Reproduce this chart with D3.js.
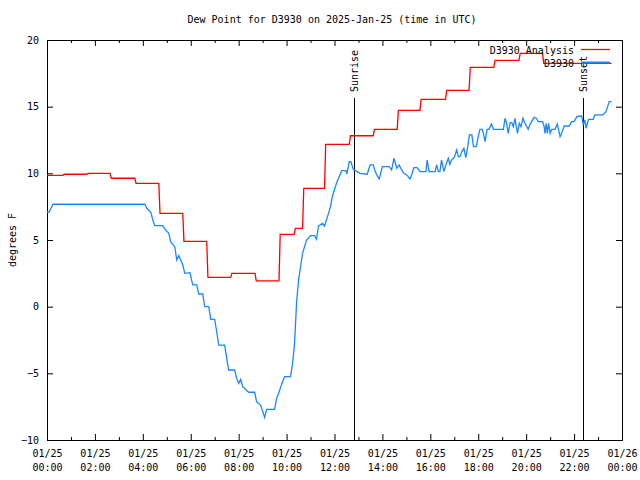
<!DOCTYPE html>
<html><head><meta charset="utf-8">
<script src="https://cdn.jsdelivr.net/npm/d3@7"></script>
<style>
body{margin:0;background:#fff}
text{font-family:"DejaVu Sans Mono",monospace;font-size:10px;fill:#000}
</style>
</head><body>
<svg id="c" width="640" height="480"></svg>
<script>
// ---- data (minutes after 2025-01-25 00:00 UTC) ----
const obsMinutes = [0,5,10,15,245,250,260,265,270,290,295,305,310,320,325,330,335,340,345,358,365,375,380,390,395,405,410,420,425,430,445,450,455,470,475,480,485,490,505,520,525,535,545,550,570,575,580,590,595,610,615,620,625,630,640,645,650,660,670,675,680,690,695,705,710,715,725,738,749,751,757,761,767,784,802,809,817,822,827,832,840,857,863,869,876,882,888,894,901,909,913,919,927,934,949,952,957,972,976,980,984,988,994,999,1005,1009,1013,1020,1026,1030,1034,1039,1044,1049,1053,1058,1064,1068,1075,1080,1084,1090,1093,1097,1102,1107,1113,1118,1143,1147,1151,1155,1160,1164,1168,1172,1178,1183,1187,1192,1197,1205,1211,1220,1226,1230,1241,1245,1247,1250,1253,1256,1260,1264,1272,1278,1281,1285,1289,1295,1308,1314,1320,1327,1335,1339,1343,1347,1350,1356,1368,1372,1392,1400,1408,1414];
const obsValues = [7.08,7.08,7.38,7.68,7.68,7.38,7.08,6.5,6.08,6.08,5.83,5.5,4.83,4.5,3.5,3.83,3.5,3.12,2.5,2.55,1.63,1.63,0.95,0.95,0,0,-0.95,-0.95,-1.88,-2.88,-2.88,-3.88,-4.75,-4.75,-5.38,-5.75,-5.45,-6.0,-6.42,-6.42,-7.13,-7.38,-8.3,-7.7,-7.7,-6.88,-6.5,-5.63,-5.25,-5.25,-4.25,-2.75,0.3,2.0,4.0,4.5,5.0,5.33,5.33,5.05,6.05,6.25,6.05,7.0,7.5,8.3,9.25,10.2,10.2,9.95,10.88,10.88,10.3,10.0,9.93,10.63,10.63,10.13,9.83,9.58,10.5,10.5,10.25,11.13,10.38,10.63,10.25,10.0,9.88,9.58,9.88,10.43,10.43,10.13,10.13,11.0,10.13,10.13,10.63,10.13,10.13,11.0,10.13,10.63,11.13,10.68,11.0,11.2,11.75,11.25,11.25,11.63,11.88,11.18,11.88,12.88,12.88,12.0,12.0,12.75,13.3,13.3,13.0,12.38,13.3,13.3,13.7,13.3,13.3,14.13,13.75,13.0,13.8,13.8,13.5,14.13,13.0,13.75,13.5,14.13,13.75,13.3,13.75,14.2,14.13,13.88,13.88,13.5,13.0,13.75,13.0,13.75,13.0,13.3,13.3,13.7,13.3,12.75,13.0,13.55,13.55,13.88,13.88,14.25,14.3,14.3,13.63,14.0,13.38,14.05,14.05,14.38,14.38,14.63,15.38,15.38];

const anaChangeMinutes = [0,40,100,158,220,280,340,400,460,521,581,619,640,695,757,817,877,934,998,1057,1119,1182,1241];
const anaValues = [9.85,9.93,10.0,9.63,9.25,7.0,4.9,2.2,2.5,1.93,5.42,5.87,8.87,12.17,12.82,13.3,14.72,15.55,16.22,17.95,18.47,19.0,18.25];
const anaEndMinute = 1414;

const xTickDates = ["01/25","01/25","01/25","01/25","01/25","01/25","01/25","01/25","01/25","01/25","01/25","01/25","01/26"];
const xTickTimes = ["00:00","02:00","04:00","06:00","08:00","10:00","12:00","14:00","16:00","18:00","20:00","22:00","00:00"];
const yTickValues = [-10,-5,0,5,10,15,20];
const sunEvents = [{name:"Sunrise", minute:769},{name:"Sunset", minute:1342}];
const seriesNames = ["D3930 Analysis","D3930"];
const titleText = "Dew Point for D3930 on 2025-Jan-25 (time in UTC)";
const yLabelText = "degrees F";

// ---- layout ----
const L=47, R=622, T=40, B=440;
const RED="#ff0000", BLUE="#1b87ff";
const svg = d3.select("#c");
const x = d3.scaleLinear().domain([0,1440]).range([L,R]);
const y = d3.scaleLinear().domain([-10,20]).range([B,T]);

// title
svg.append("text").attr("x",332).attr("y",19).attr("dy","0.35em")
  .attr("text-anchor","middle").text(titleText);
// y label
svg.append("text").attr("transform","translate(12,240) rotate(-90)")
  .attr("dy","0.35em").attr("text-anchor","middle").text(yLabelText);

const majorX = d3.range(0,1441,120), minorX = d3.range(60,1440,120);

// bottom axis
const gB = svg.append("g").attr("transform",`translate(0,${B})`)
  .call(d3.axisBottom(x).tickValues(majorX).tickSizeInner(-6).tickSizeOuter(0).tickPadding(9).tickFormat(""));
gB.selectAll(".tick text").each(function(d,i){
  const t=d3.select(this); t.text(null).attr("y",null).attr("dy",null);
  t.append("tspan").attr("x",0).attr("y",13).attr("dy","0.35em").text(xTickDates[i]);
  t.append("tspan").attr("x",0).attr("y",27).attr("dy","0.35em").text(xTickTimes[i]);
});
svg.append("g").attr("transform",`translate(0,${B})`)
  .call(d3.axisBottom(x).tickValues(minorX).tickSizeInner(-3).tickSizeOuter(0).tickFormat(""));
// top axis
svg.append("g").attr("transform",`translate(0,${T})`)
  .call(d3.axisTop(x).tickValues(majorX).tickSizeInner(-6).tickSizeOuter(0).tickFormat(""));
svg.append("g").attr("transform",`translate(0,${T})`)
  .call(d3.axisTop(x).tickValues(minorX).tickSizeInner(-3).tickSizeOuter(0).tickFormat(""));
// left axis
const gL = svg.append("g").attr("transform",`translate(${L},0)`)
  .call(d3.axisLeft(y).tickValues(yTickValues).tickSizeInner(-6).tickSizeOuter(0).tickPadding(8).tickFormat(d3.format("d")));
// right axis
svg.append("g").attr("transform",`translate(${R},0)`)
  .call(d3.axisRight(y).tickValues(yTickValues).tickSizeInner(-6).tickSizeOuter(0).tickFormat(""));
svg.selectAll(".domain").remove();
svg.selectAll(".tick line").attr("stroke","#000");
svg.selectAll(".tick text").attr("font-family",null).attr("font-size",null).attr("fill","#000");

// frame
svg.append("rect").attr("x",L+0.5).attr("y",T+0.5).attr("width",R-L).attr("height",B-T)
  .attr("fill","none").attr("stroke","#000").attr("stroke-width",1);

// sunrise / sunset
sunEvents.forEach(s=>{
  const xx = Math.round(x(s.minute))+0.5;
  svg.append("line").attr("x1",xx).attr("x2",xx).attr("y1",98).attr("y2",B)
    .attr("stroke","#000").attr("stroke-width",1);
  svg.append("text").attr("transform",`translate(${xx},92) rotate(-90)`)
    .attr("dy","0.35em").attr("text-anchor","start").text(s.name);
});

// series
const obs = obsMinutes.map((m,i)=>({m, v:obsValues[i]}));
const ana = [];
anaChangeMinutes.forEach((m,i)=>{
  if(i>0) ana.push({m:m, v:anaValues[i-1]});
  ana.push({m:(i===0?m:m+3), v:anaValues[i]});
});
ana.push({m:anaEndMinute, v:anaValues[anaValues.length-1]});

const line = d3.line().x(d=>x(d.m)).y(d=>y(d.v));
svg.append("path").datum(obs).attr("d",line).attr("fill","none")
  .attr("stroke",BLUE).attr("stroke-width",1.3);
svg.append("path").datum(ana).attr("d",line).attr("fill","none")
  .attr("stroke",RED).attr("stroke-width",1.3);

// legend
const legY = [50,63];
const legColors = [RED, BLUE];
const legW = [1.3, 2];
seriesNames.forEach((n,i)=>{
  svg.append("text").attr("x",574).attr("y",legY[i]).attr("dy","0.35em")
    .attr("text-anchor","end").text(n);
  svg.append("line").attr("x1",581).attr("x2",610).attr("y1",legY[i]-0.5).attr("y2",legY[i]-0.5)
    .attr("stroke",legColors[i]).attr("stroke-width",legW[i]);
});
</script>
</body></html>
